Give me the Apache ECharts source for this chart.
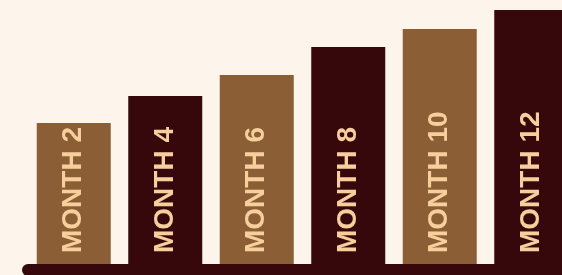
<!DOCTYPE html>
<html>
<head>
<meta charset="utf-8">
<script src="https://cdn.jsdelivr.net/npm/echarts@6/dist/echarts.min.js"></script>
<style>
  html, body { margin: 0; padding: 0; background: #fdf5eb; }
  #chart { width: 562px; height: 275px; }
</style>
</head>
<body>
<div id="chart"></div>
<script>
var months = ['MONTH 2', 'MONTH 4', 'MONTH 6', 'MONTH 8', 'MONTH 10', 'MONTH 12'];
var values = [147, 174, 195, 223, 241, 260];
var barColors = ['#8b5e36', '#36080b', '#8b5e36', '#36080b', '#8b5e36', '#36080b'];

var chart = echarts.init(document.getElementById('chart'));

var option = {
    backgroundColor: '#fdf5eb',
    animation: false,
    grid: {
        left: 28,
        width: 549,
        top: 0,
        bottom: 5,
        outerBoundsMode: 'none'
    },
    xAxis: {
        type: 'category',
        data: months,
        z: 10,
        axisLine: {
            lineStyle: { color: '#36080b', width: 12, cap: 'round' }
        },
        axisTick: { show: false },
        axisLabel: { show: false }
    },
    yAxis: {
        type: 'value',
        min: 0,
        max: 270,
        show: false,
        splitLine: { show: false }
    },
    series: [
        {
            type: 'bar',
            barWidth: 74,
            data: values.map(function (v, i) {
                return { value: v, itemStyle: { color: barColors[i] } };
            }),
            label: {
                show: true,
                position: 'insideBottom',
                rotate: 90,
                align: 'left',
                verticalAlign: 'middle',
                distance: 17,
                formatter: '{b}',
                color: '#f6cf9c',
                fontFamily: 'Liberation Sans',
                fontWeight: 'bold',
                fontSize: 28
            }
        }
    ]
};
chart.setOption(option);
</script>
</body>
</html>
